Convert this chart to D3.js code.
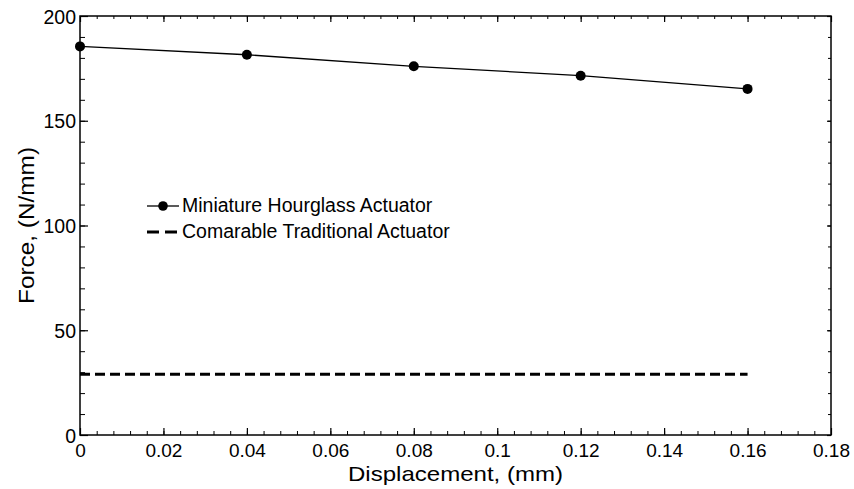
<!DOCTYPE html>
<html>
<head>
<meta charset="utf-8">
<script src="https://cdn.jsdelivr.net/npm/d3@7"></script>
<style>
    body { margin: 0; background: #fff; }
    text { font-family: Arial, "Liberation Sans", sans-serif; fill: #000; }
</style>
</head>
<body>
<svg id="chart" width="854" height="489"></svg>
<script>
'use strict';

// data
let displacement = [0, 0.04, 0.08, 0.12, 0.16];
let hourglassForce = [185.5, 181.5, 176, 171.5, 165.2];
let traditionalX = [0, 0.16];
let traditionalForce = [29, 29];

let xTicks = [0, 0.02, 0.04, 0.06, 0.08, 0.1, 0.12, 0.14, 0.16, 0.18];
let yTicks = [0, 50, 100, 150, 200];
let seriesNames = ['Miniature Hourglass Actuator', 'Comarable Traditional Actuator'];

let margin = {top: 16, right: 23, bottom: 54, left: 80};
let width = 854 - margin.left - margin.right;
let height = 489 - margin.top - margin.bottom;

let svg = d3.select('#chart');
let g = svg.append('g').attr('transform', 'translate(' + margin.left + ',' + margin.top + ')');

let x = d3.scaleLinear().domain([0, 0.18]).range([0, width]);
let y = d3.scaleLinear().domain([0, 200]).range([height, 0]);

let xMinor = d3.range(0, 0.18 + 1e-9, 0.004);
let yMinor = d3.range(0, 200 + 1e-9, 10);

function tickFmt(d) {
    return d === 0 ? '0' : String(+d.toFixed(3));
}

// inward ticks on all four sides
function drawAxis(axisFn, scale, major, minor, majorLen, minorLen, transform, labels) {
    let a = g.append('g').attr('transform', transform);
    a.call(axisFn(scale).tickValues(minor).tickSize(-minorLen).tickFormat(''));
    a.select('.domain').remove();
    let b = g.append('g').attr('transform', transform);
    b.call(axisFn(scale).tickValues(major).tickSize(-majorLen).tickSizeOuter(0)
        .tickFormat(labels ? tickFmt : ''));
    b.select('.domain').remove();
    a.selectAll('line').attr('stroke', '#000').attr('stroke-width', 1);
    b.selectAll('line').attr('stroke', '#000').attr('stroke-width', 1.2);
    return b;
}

let bottomAx = drawAxis(d3.axisBottom, x, xTicks, xMinor, 7, 4, 'translate(0,' + height + ')', true);
bottomAx.selectAll('text').attr('font-size', 19).attr('y', 22).attr('dy', 0);

let leftAx = drawAxis(d3.axisLeft, y, yTicks, yMinor, 8, 5, 'translate(0,0)', true);
leftAx.selectAll('text').attr('font-size', 19.5).attr('x', -4).attr('dy', '0.36em');

drawAxis(d3.axisTop, x, xTicks, xMinor, 6, 3, 'translate(0,0)', false);
drawAxis(d3.axisRight, y, yTicks, yMinor, 4, 3, 'translate(' + width + ',0)', false);

g.append('rect')
    .attr('width', width)
    .attr('height', height)
    .attr('fill', 'none')
    .attr('stroke', '#000')
    .attr('stroke-width', 1.5);

// series
let hourglass = displacement.map(function (d, i) { return [d, hourglassForce[i]]; });
let traditional = traditionalX.map(function (d, i) { return [d, traditionalForce[i]]; });

let line = d3.line()
    .x(function (d) { return x(d[0]); })
    .y(function (d) { return y(d[1]); });

g.append('path')
    .datum(traditional)
    .attr('d', line)
    .attr('fill', 'none')
    .attr('stroke', '#000')
    .attr('stroke-width', 3)
    .attr('stroke-dasharray', '10,5');

g.append('path')
    .datum(hourglass)
    .attr('d', line)
    .attr('fill', 'none')
    .attr('stroke', '#000')
    .attr('stroke-width', 1.3);

g.selectAll('circle.pt')
    .data(hourglass)
    .join('circle')
    .attr('class', 'pt')
    .attr('cx', function (d) { return x(d[0]); })
    .attr('cy', function (d) { return y(d[1]); })
    .attr('r', 5)
    .attr('fill', '#000');

// legend
let legend = svg.append('g').attr('transform', 'translate(147,206)');
legend.append('line')
    .attr('x1', 0).attr('x2', 32)
    .attr('stroke', '#000').attr('stroke-width', 1.3);
legend.append('circle').attr('cx', 16).attr('r', 4.8).attr('fill', '#000');
legend.append('line')
    .attr('x1', 0).attr('x2', 32).attr('y1', 26).attr('y2', 26)
    .attr('stroke', '#000').attr('stroke-width', 3)
    .attr('stroke-dasharray', '12,6');
legend.selectAll('text.lbl')
    .data(seriesNames)
    .join('text')
    .attr('class', 'lbl')
    .attr('x', 35)
    .attr('y', function (d, i) { return i * 26; })
    .attr('dy', '0.3em')
    .attr('font-size', 19.5)
    .text(function (d) { return d; });

// axis titles (reference glyphs are slightly wider than Liberation Sans)
svg.append('text')
    .attr('x', margin.left + width / 2)
    .attr('y', 481)
    .attr('text-anchor', 'middle')
    .attr('font-size', 21)
    .attr('textLength', 215)
    .attr('lengthAdjust', 'spacingAndGlyphs')
    .text('Displacement, (mm)');

svg.append('text')
    .attr('transform', 'translate(34,' + (margin.top + height / 2) + ')rotate(-90)')
    .attr('text-anchor', 'middle')
    .attr('font-size', 21.5)
    .attr('textLength', 157)
    .attr('lengthAdjust', 'spacingAndGlyphs')
    .text('Force, (N/mm)');
</script>
</body>
</html>
